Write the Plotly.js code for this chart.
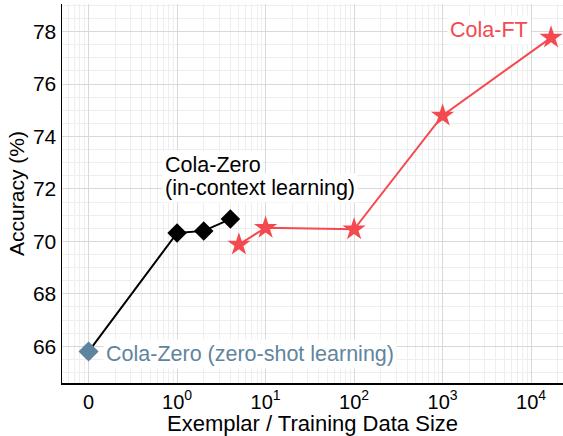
<!DOCTYPE html>
<html>
<head>
<meta charset="utf-8">
<script src="https://cdn.plot.ly/plotly-3.0.1.min.js"></script>
<style>html,body{margin:0;padding:0;background:#fff;}#chart{width:563px;height:436px;}</style>
</head>
<body>
<div id="chart"></div>
<script>
// Data (raw sizes; x-axis drawn on a symlog scale, linear in [0,1])
const zeroShotX = [0];
const zeroShotY = [65.8];
const iclX = [1, 2, 4];
const iclY = [70.32, 70.4, 70.85];
const ftX = [5, 10, 100, 1000, 16800];
const ftY = [69.88, 70.52, 70.46, 74.8, 77.77];
const xTickValues = [0, 1, 10, 100, 1000, 10000];
const xTickLabels = ["0", "10<sup>0</sup>", "10<sup>1</sup>", "10<sup>2</sup>", "10<sup>3</sup>", "10<sup>4</sup>"];

// symlog transform (linthresh = 1)
function sl(v) { return v <= 1 ? v : 1 + Math.log10(v); }

const minorVals = [];
for (let n = -1; n <= 5; n++) {
  for (let k = 2; k <= 9; k++) minorVals.push(n + Math.log10(k));
}

const red = '#f44a4f';
const blue = '#5f859e';
const font = 'Liberation Sans, Arial, Helvetica, sans-serif';
const fs = 21.5;

const traces = [
  {
    x: zeroShotX.concat(iclX).map(sl), y: zeroShotY.concat(iclY),
    mode: 'lines', line: {color: '#000', width: 2}, hoverinfo: 'skip'
  },
  {
    x: iclX.map(sl), y: iclY, mode: 'markers',
    marker: {symbol: 'diamond', size: 15, color: '#000'}
  },
  {
    x: zeroShotX.map(sl), y: zeroShotY, mode: 'markers',
    marker: {symbol: 'diamond', size: 15.5, color: blue}
  },
  {
    x: ftX.map(sl), y: ftY, mode: 'lines+markers',
    line: {color: red, width: 2},
    marker: {symbol: 'star', size: 17.5, color: red}
  }
];

const layout = {
  width: 563, height: 436,
  margin: {l: 62, r: 0, t: 4, b: 53},
  paper_bgcolor: '#fff', plot_bgcolor: '#fff',
  showlegend: false,
  font: {family: font, size: fs, color: '#000'},
  xaxis: {
    range: [-0.30, 5.36],
    tickmode: 'array', tickvals: xTickValues.map(sl), ticktext: xTickLabels,
    showgrid: true, gridcolor: '#d9d9d9', gridwidth: 1,
    zeroline: false, showline: true, linecolor: '#000', linewidth: 1.5,
    ticks: '', tickfont: {size: 20, color: '#000'},
    minor: {tickmode: 'array', tickvals: minorVals, showgrid: true, gridcolor: '#eeeeee', gridwidth: 1, ticks: ''},
    title: {text: 'Exemplar / Training Data Size', font: {size: 22, color: '#000'}, standoff: 0}
  },
  yaxis: {
    range: [64.6, 79.05],
    tickmode: 'linear', tick0: 66, dtick: 2,
    showgrid: true, gridcolor: '#d9d9d9', gridwidth: 1,
    zeroline: false, showline: true, linecolor: '#000', linewidth: 1.5,
    ticks: '', tickfont: {size: 21, color: '#000'},
    minor: {dtick: 0.5, tick0: 66, showgrid: true, gridcolor: '#eeeeee', gridwidth: 1, ticks: ''},
    title: {text: 'Accuracy (%)', font: {size: 21, color: '#000'}, standoff: 2}
  },
  annotations: [
    {
      x: 0.835, y: 72.92, xref: 'x', yref: 'y', xanchor: 'left', yanchor: 'middle',
      text: 'Cola-Zero', align: 'left', showarrow: false,
      font: {size: fs, color: '#000', family: font}, bgcolor: '#fff', borderpad: 2
    },
    {
      x: 0.835, y: 72.05, xref: 'x', yref: 'y', xanchor: 'left', yanchor: 'middle',
      text: '(in-context learning)', align: 'left', showarrow: false,
      font: {size: fs, color: '#000', family: font}, bgcolor: '#fff', borderpad: 2
    },
    {
      x: 5.0, y: 78.07, xref: 'x', yref: 'y', xanchor: 'right', yanchor: 'middle',
      text: 'Cola-FT', showarrow: false,
      font: {size: fs, color: red, family: font}, bgcolor: '#fff', borderpad: 2
    },
    {
      x: 0.16, y: 65.72, xref: 'x', yref: 'y', xanchor: 'left', yanchor: 'middle',
      text: 'Cola-Zero (zero-shot learning)', showarrow: false,
      font: {size: fs, color: blue, family: font}, bgcolor: '#fff', borderpad: 2
    }
  ]
};

Plotly.newPlot('chart', traces, layout, {displayModeBar: false, staticPlot: true});
</script>
</body>
</html>
